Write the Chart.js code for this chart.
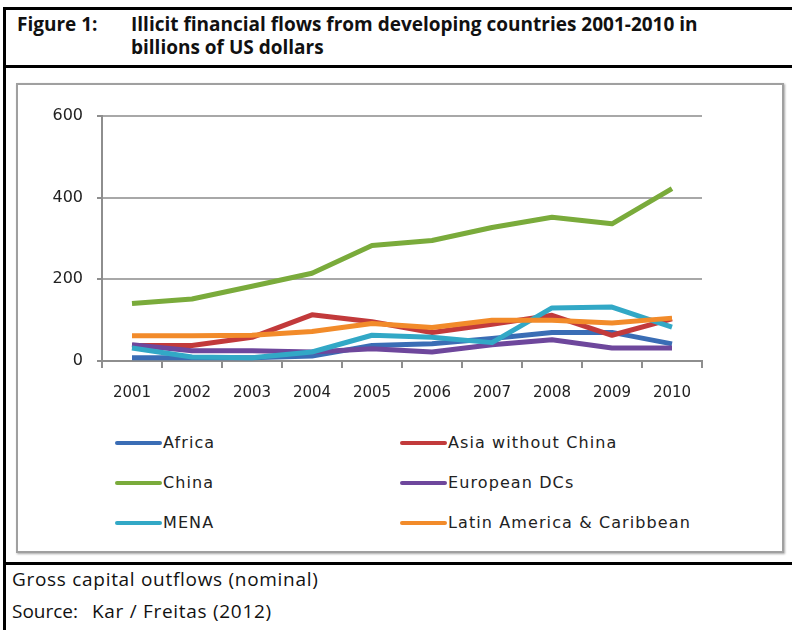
<!DOCTYPE html>
<html>
<head>
<meta charset="utf-8">
<script src="https://cdn.jsdelivr.net/npm/chart.js@4.4.1/dist/chart.umd.min.js"></script>
<style>
  body { margin: 0; width: 792px; height: 630px; overflow: hidden; background: #fff; position: relative; font-family: "Open Sans", sans-serif; }
  .abs { position: absolute; }
  .hline { position: absolute; left: 3px; width: 800px; height: 3px; background: #000; }
  #frameLeft { left: 3px; top: 7px; width: 3px; height: 640px; background: #000; }
  .title { font-weight: bold; font-size: 19px; letter-spacing: 0px; color: #111; line-height: 23px; }
  .foot { font-size: 19px; letter-spacing: 0.7px; color: #111; white-space: nowrap; }
  #box { left: 16px; top: 83px; width: 764px; height: 466px; border: 2px solid #a0a0a0; box-shadow: 1px 1px 2px rgba(0,0,0,0.35); }
  #wrap { left: 18px; top: 85px; width: 760px; height: 330px; }
  .leg { position: absolute; font-family: "DejaVu Sans", sans-serif; font-size: 16px; letter-spacing: 1.1px; color: #222; height: 20px; line-height: 20px; }
  .leg span.sw { position: absolute; top: 8px; height: 4px; width: 47px; border-radius: 2px; }
  .leg span.tx { position: absolute; left: 48px; white-space: nowrap; }
</style>
</head>
<body>
<div class="hline" style="top:7px"></div>
<div class="abs" id="frameLeft"></div>
<div class="hline" style="top:65px"></div>
<div class="hline" style="top:562px"></div>

<div class="abs title" style="left:17px; top:13px">Figure 1:</div>
<div class="abs title" style="left:131px; top:13px; width:655px">Illicit financial flows from developing countries 2001-2010 in<br>billions of US dollars</div>

<div class="abs" id="box"></div>
<div class="abs" id="wrap"><canvas id="chart"></canvas></div>
<div id="legend"></div>

<div class="abs foot" style="left:12px; top:566px">Gross capital outflows (nominal)</div>
<div class="abs foot" style="left:12px; top:598px; letter-spacing:0">Source:</div>
<div class="abs foot" style="left:92px; top:598px">Kar / Freitas (2012)</div>

<script>
const years = ["2001", "2002", "2003", "2004", "2005", "2006", "2007", "2008", "2009", "2010"];
const yTicks = [0, 200, 400, 600];

const africa = [8, 8, 8, 12, 38, 42, 55, 70, 70, 42];
const asiaWithoutChina = [38, 38, 58, 113, 96, 70, 90, 112, 63, 103];
const china = [141, 152, 183, 215, 283, 295, 327, 352, 336, 422];
const europeanDCs = [40, 25, 25, 22, 30, 22, 40, 52, 32, 32];
const mena = [32, 10, 8, 22, 63, 58, 45, 130, 132, 83];
const latinAmerica = [62, 62, 63, 72, 92, 82, 100, 100, 93, 105];

const seriesNames = ["Africa", "Asia without China", "China", "European DCs", "MENA", "Latin America & Caribbean"];
const seriesData = [africa, asiaWithoutChina, china, europeanDCs, mena, latinAmerica];
const seriesColors = ["#3a6db5", "#c23a3b", "#7aab3b", "#6e479c", "#32a8c6", "#f28b2a"];

const axisGrey = "#8e8e8e";

const datasets = seriesNames.map((name, i) => ({
  label: name,
  data: seriesData[i],
  borderColor: seriesColors[i],
  backgroundColor: seriesColors[i],
  borderWidth: 5,
  pointRadius: 0,
  tension: 0,
  borderJoinStyle: "round",
  order: seriesNames.length - i   // later series on top, like the original
}));

const chart = new Chart(document.getElementById("chart").getContext("2d"), {
  type: "line",
  data: { labels: years, datasets: datasets },
  options: {
    responsive: true,
    maintainAspectRatio: false,
    animation: false,
    layout: { padding: { top: 31, right: 76, bottom: 0, left: 0 } },
    plugins: { legend: { display: false }, tooltip: { enabled: false } },
    scales: {
      x: {
        offset: true,
        grid: { display: true, offset: true, drawOnChartArea: false, tickLength: 7, color: axisGrey, tickColor: axisGrey, lineWidth: 2 },
        border: { display: true, color: axisGrey, width: 2 },
        ticks: { color: "#222", padding: 16, maxRotation: 0, font: { family: "DejaVu Sans", size: 15 } },
        afterFit: (s) => { s.height = 54; }
      },
      y: {
        min: 0,
        max: 600,
        afterBuildTicks: (s) => { s.ticks = yTicks.map(v => ({ value: v })); },
        grid: { color: "#a8a8a8", lineWidth: 2, tickLength: 5, tickColor: axisGrey },
        border: { display: true, color: axisGrey, width: 2 },
        ticks: { color: "#222", padding: 14, font: { family: "DejaVu Sans", size: 16 } },
        afterFit: (s) => { s.width = 84; }
      }
    }
  }
});

// legend, two columns like the original
const legendPos = [[115, 433], [400, 433], [115, 473], [400, 473], [115, 513], [400, 513]];
const legendEl = document.getElementById("legend");
chart.data.datasets.forEach((ds, i) => {
  const item = document.createElement("div");
  item.className = "leg";
  item.style.left = legendPos[i][0] + "px";
  item.style.top = legendPos[i][1] + "px";
  item.innerHTML = '<span class="sw" style="background:' + ds.borderColor + '"></span><span class="tx"></span>';
  item.querySelector(".tx").textContent = ds.label;
  legendEl.appendChild(item);
});
</script>
</body>
</html>
